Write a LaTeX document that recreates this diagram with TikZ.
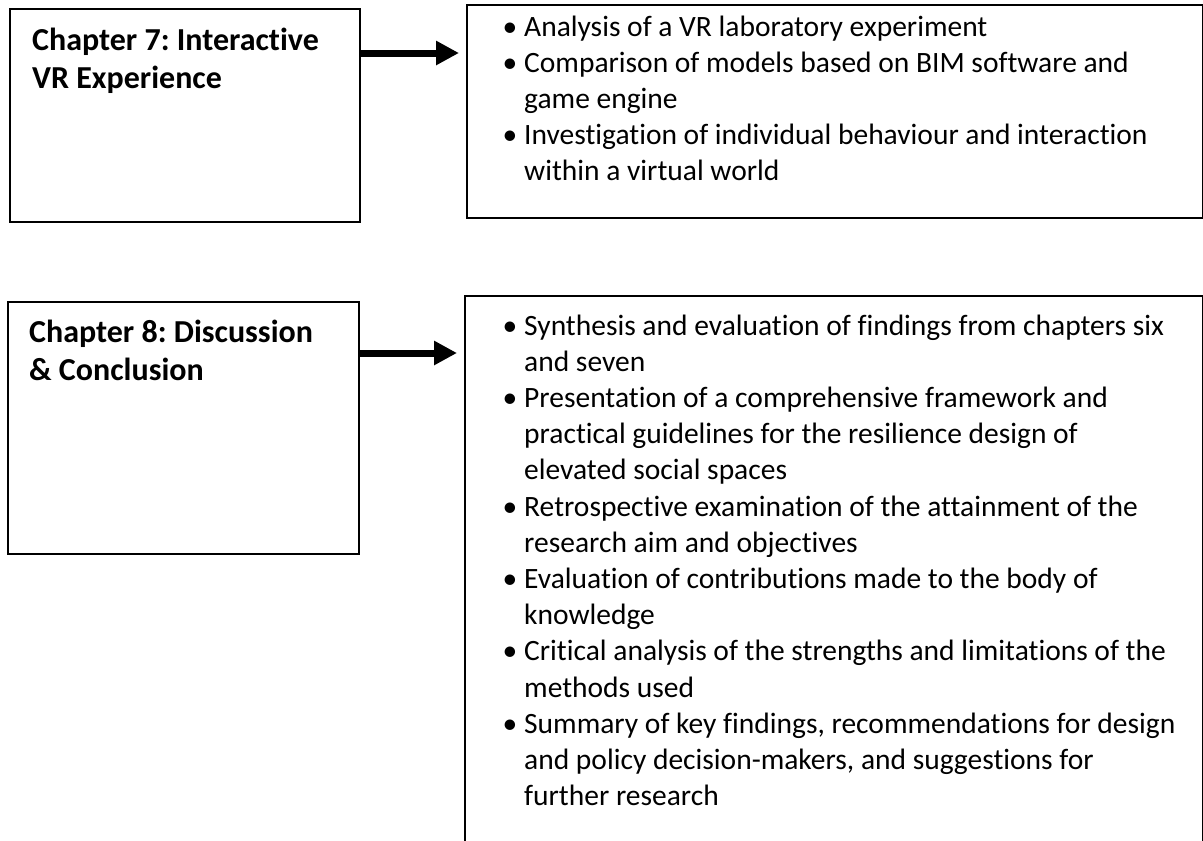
\documentclass[tikz,border=0pt]{standalone}
\usepackage{fontspec}
\setmainfont{Carlito}[Ligatures={NoCommon}]
\usetikzlibrary{arrows.meta}

\newcommand{\itm}{\leavevmode\llap{\textbullet\hspace{7pt}}}

\tikzset{
  frame/.style={draw=black, line width=2.2pt, fill=none, inner sep=0pt, anchor=north west},
  titletext/.style={anchor=base west, inner sep=0pt, font=\fontsize{32}{38}\selectfont\bfseries\frenchspacing},
  listtext/.style={anchor=base west, inner sep=0pt, font=\fontsize{29.5}{36.2}\selectfont\frenchspacing},
  bigarrow/.style={line width=7pt, -{Triangle[length=23pt,width=23pt]}}
}

\begin{document}
\begin{tikzpicture}[x=1pt, y=-1pt]
  \useasboundingbox (0,0) rectangle (1203,841);

  % chapter boxes on the left
  \node[frame, minimum width=350pt, minimum height=213pt] (ch7) at (9,8) {};
  \node[frame, minimum width=351pt, minimum height=252pt] (ch8) at (7,301) {};

  % content boxes on the right (the lower one runs off the page)
  \node[frame, minimum width=736pt, minimum height=213pt] (r7) at (466,4) {};
  \node[frame, minimum width=738pt, minimum height=580pt] (r8) at (464,295) {};

  % chapter titles
  \node[titletext] (t7) at (32,50)
    {\parbox[t]{320pt}{Chapter 7: Interactive\\VR Experience}};
  \node[titletext] (t8) at (29,342)
    {\parbox[t]{320pt}{Chapter 8: Discussion\\\& Conclusion}};

  % bullet lists
  \node[listtext] (l7) at (524,36)
    {\parbox[t]{670pt}{%
      \itm Analysis of a VR laboratory experiment\\
      \itm Comparison of models based on BIM software and\\
      game engine\\
      \itm Investigation of individual behaviour and interaction\\
      within a virtual world}};
  \node[listtext] (l8) at (524,335)
    {\parbox[t]{670pt}{%
      \itm Synthesis and evaluation of findings from chapters six\\
      and seven\\
      \itm Presentation of a comprehensive framework and\\
      practical guidelines for the resilience design of\\
      elevated social spaces\\
      \itm Retrospective examination of the attainment of the\\
      research aim and objectives\\
      \itm Evaluation of contributions made to the body of\\
      knowledge\\
      \itm Critical analysis of the strengths and limitations of the\\
      methods used\\
      \itm Summary of key findings, recommendations for design\\
      and policy decision-makers, and suggestions for\\
      further research}};

  % arrows from chapter to content
  \draw[bigarrow] ([yshift=-45pt]ch7.north east) -- ([yshift=-49pt,xshift=-7pt]r7.north west);
  \draw[bigarrow] ([yshift=-52pt]ch8.north east) -- ([yshift=-58pt,xshift=-7pt]r8.north west);
\end{tikzpicture}
\end{document}
